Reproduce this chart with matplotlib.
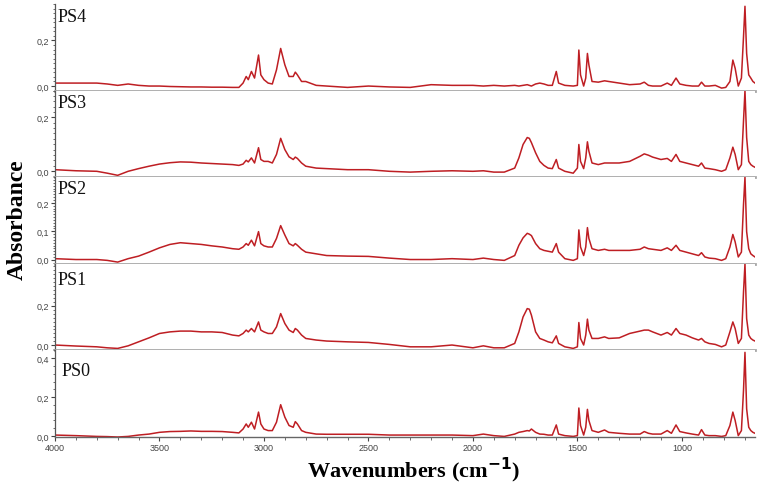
import matplotlib
matplotlib.use("Agg")
import matplotlib.pyplot as plt
from matplotlib.ticker import MultipleLocator, FuncFormatter

# ---------------- data ----------------
wavenumbers = [
    4000, 3900, 3800, 3750, 3700, 3650, 3600, 3550, 3500, 3450, 3400, 3350, 3300, 3250, 3200,
    3150, 3120, 3100, 3085, 3075, 3060, 3045, 3026, 3015, 3000, 2980, 2960, 2940, 2920, 2900,
    2880, 2860, 2850, 2840, 2820,
    2800, 2750, 2700, 2600, 2500, 2400, 2300, 2200, 2100, 2000, 1950, 1900, 1850, 1800, 1780,
    1760, 1740, 1730, 1720, 1700, 1680, 1660, 1640, 1620, 1601, 1590,
    1560, 1520, 1500, 1493, 1485, 1470, 1460, 1452, 1445, 1430, 1400, 1370, 1350, 1300, 1250,
    1200, 1180, 1160, 1140, 1100, 1070, 1050, 1028, 1010, 980, 950, 920, 906, 890, 870,
    840, 810, 790, 770, 756, 745, 730, 715, 705, 698, 690, 680, 670, 660, 650,
]

ps4 = [
    0.013, 0.013, 0.013, 0.009, 0.003, 0.009, 0.003, 0.0, 0.0, -0.002, -0.003, -0.004, -0.004, -0.005, -0.005,
    -0.006, -0.006, 0.013, 0.042, 0.028, 0.064, 0.035, 0.136, 0.049, 0.028, 0.013, 0.009, 0.071, 0.165, 0.093,
    0.042, 0.042, 0.061, 0.049, 0.020,
    0.020, 0.003, 0.0, -0.006, 0.0, -0.004, -0.006, 0.006, 0.003, 0.003, 0.0, 0.003, 0.0, 0.003, 0.0,
    0.003, 0.006, 0.003, 0.0, 0.009, 0.013, 0.009, 0.003, 0.003, 0.064, 0.013,
    0.003, 0.0, 0.003, 0.158, 0.049, 0.0, 0.035, 0.143, 0.093, 0.020, 0.017, 0.023, 0.020, 0.013, 0.006,
    0.009, 0.017, 0.003, 0.0, 0.0, 0.013, 0.003, 0.035, 0.009, 0.003, 0.0, 0.0, 0.017, 0.0, 0.0,
    0.003, -0.009, -0.006, 0.020, 0.114, 0.078, 0.0, 0.035, 0.216, 0.350, 0.143, 0.049, 0.035, 0.020, 0.013,
]

ps3 = [
    0.005, 0.001, -0.001, -0.008, -0.016, -0.001, 0.009, 0.018, 0.026, 0.031, 0.034, 0.033, 0.030, 0.028, 0.026,
    0.024, 0.021, 0.026, 0.040, 0.034, 0.049, 0.030, 0.087, 0.043, 0.036, 0.036, 0.030, 0.062, 0.122, 0.080,
    0.053, 0.043, 0.052, 0.047, 0.030,
    0.018, 0.011, 0.009, 0.005, 0.005, -0.001, -0.004, -0.001, 0.001, -0.001, 0.001, -0.004, -0.004, 0.011, 0.049,
    0.099, 0.125, 0.122, 0.106, 0.068, 0.036, 0.021, 0.011, 0.009, 0.043, 0.011,
    -0.001, -0.008, 0.011, 0.099, 0.036, 0.009, 0.049, 0.109, 0.074, 0.030, 0.024, 0.030, 0.030, 0.030, 0.036,
    0.055, 0.064, 0.059, 0.052, 0.043, 0.047, 0.036, 0.062, 0.036, 0.030, 0.024, 0.018, 0.030, 0.011, 0.009,
    0.005, -0.001, 0.005, 0.049, 0.089, 0.062, 0.005, 0.024, 0.187, 0.300, 0.125, 0.036, 0.024, 0.018, 0.014,
]

ps2 = [
    0.004, 0.001, 0.001, -0.002, -0.008, 0.004, 0.013, 0.027, 0.042, 0.054, 0.060, 0.057, 0.054, 0.049, 0.045,
    0.039, 0.037, 0.045, 0.057, 0.051, 0.069, 0.049, 0.099, 0.057, 0.049, 0.045, 0.045, 0.075, 0.120, 0.087,
    0.057, 0.049, 0.057, 0.051, 0.037,
    0.027, 0.021, 0.015, 0.013, 0.012, 0.006, 0.001, 0.001, 0.004, 0.001, 0.006, 0.001, -0.002, 0.015, 0.051,
    0.077, 0.093, 0.090, 0.085, 0.057, 0.039, 0.033, 0.030, 0.027, 0.057, 0.027,
    0.004, -0.002, 0.004, 0.105, 0.045, 0.015, 0.045, 0.113, 0.075, 0.039, 0.033, 0.037, 0.033, 0.033, 0.033,
    0.037, 0.045, 0.039, 0.037, 0.033, 0.042, 0.033, 0.051, 0.033, 0.027, 0.021, 0.015, 0.025, 0.010, 0.006,
    0.004, -0.002, 0.004, 0.045, 0.089, 0.063, 0.010, 0.027, 0.194, 0.290, 0.099, 0.039, 0.021, 0.015, 0.010,
]

ps1 = [
    0.002, -0.003, -0.007, -0.012, -0.015, -0.002, 0.018, 0.038, 0.060, 0.068, 0.072, 0.072, 0.068, 0.068, 0.065,
    0.052, 0.048, 0.060, 0.077, 0.068, 0.085, 0.068, 0.118, 0.077, 0.068, 0.060, 0.060, 0.093, 0.160, 0.110,
    0.077, 0.065, 0.085, 0.077, 0.052,
    0.035, 0.027, 0.022, 0.018, 0.015, 0.005, -0.007, -0.007, 0.002, -0.012, -0.002, -0.012, -0.012, 0.010, 0.068,
    0.143, 0.185, 0.182, 0.152, 0.068, 0.035, 0.027, 0.018, 0.013, 0.048, 0.010,
    -0.007, -0.015, -0.007, 0.115, 0.035, 0.002, 0.052, 0.132, 0.077, 0.035, 0.035, 0.043, 0.035, 0.038, 0.060,
    0.072, 0.077, 0.077, 0.068, 0.052, 0.065, 0.052, 0.085, 0.060, 0.052, 0.038, 0.027, 0.035, 0.018, 0.010,
    0.005, -0.007, 0.002, 0.068, 0.118, 0.085, 0.010, 0.035, 0.268, 0.410, 0.135, 0.052, 0.035, 0.027, 0.022,
]

ps0 = [
    0.005, 0.002, -0.002, -0.003, -0.005, -0.002, 0.005, 0.010, 0.019, 0.023, 0.024, 0.026, 0.024, 0.024, 0.023,
    0.019, 0.016, 0.036, 0.062, 0.045, 0.071, 0.036, 0.123, 0.062, 0.036, 0.028, 0.028, 0.071, 0.161, 0.097,
    0.054, 0.045, 0.074, 0.062, 0.028,
    0.019, 0.010, 0.009, 0.009, 0.009, 0.005, 0.005, 0.005, 0.005, 0.002, 0.010, 0.002, -0.002, 0.010, 0.019,
    0.023, 0.028, 0.026, 0.036, 0.019, 0.010, 0.009, 0.005, 0.005, 0.057, 0.010,
    0.002, -0.002, 0.002, 0.144, 0.054, 0.005, 0.045, 0.137, 0.080, 0.028, 0.019, 0.031, 0.019, 0.014, 0.010,
    0.010, 0.023, 0.014, 0.010, 0.010, 0.028, 0.014, 0.057, 0.023, 0.016, 0.010, 0.005, 0.033, 0.005, 0.002,
    0.002, -0.002, 0.002, 0.054, 0.123, 0.080, 0.002, 0.028, 0.235, 0.430, 0.140, 0.045, 0.028, 0.019, 0.014,
]

labels = ["PS4", "PS3", "PS2", "PS1", "PS0"]
series = [ps4, ps3, ps2, ps1, ps0]
ylims = [(-0.02, 0.36), (-0.023, 0.30), (-0.014, 0.29), (-0.025, 0.41), (-0.005, 0.44)]
yticks = [[0.0, 0.2], [0.0, 0.2], [0.0, 0.1, 0.2], [0.0, 0.2], [0.0, 0.2, 0.4]]
yminor = [0.02, 0.02, 0.01, 0.02, 0.04]
xticks = [4000, 3500, 3000, 2500, 2000, 1500, 1000]

# ---------------- figure ----------------
W, H = 763, 485
fig = plt.figure(figsize=(W / 100, H / 100), dpi=100)
left, right = 55 / W, 755 / W
top, bottom = 1 - 5 / H, 1 - 438 / H
gs = fig.add_gridspec(5, 1, left=left, right=right, top=top, bottom=bottom, hspace=0)

line_color = "#be1e23"
serif = ["Liberation Serif", "DejaVu Serif"]
sans = ["Liberation Sans", "DejaVu Sans"]
comma_fmt = FuncFormatter(lambda v, p: f"{v:.1f}".replace(".", ","))

label_pos = [(0.004, 0.86), (0.004, 0.86), (0.004, 0.87), (0.004, 0.815), (0.009, 0.77)]

axes = []
for i in range(5):
    ax = fig.add_subplot(gs[i, 0])
    axes.append(ax)
    ax.plot(wavenumbers, series[i], color=line_color, lw=1.1)
    ax.set_xlim(4000, 650)
    ax.set_ylim(*ylims[i])
    ax.set_yticks(yticks[i])
    ax.yaxis.set_minor_locator(MultipleLocator(yminor[i]))
    ax.yaxis.set_major_formatter(comma_fmt)
    for s in ("top", "right"):
        ax.spines[s].set_visible(False)
    ax.spines["left"].set_color("#555555")
    ax.spines["left"].set_linewidth(0.9)
    ax.tick_params(axis="y", which="major", direction="out", length=3, width=0.8,
                   colors="#444444", labelsize=6.5, pad=1.5)
    ax.tick_params(axis="y", which="minor", direction="out", length=1.5, width=0.6, colors="#555555")
    for lab in ax.get_yticklabels():
        lab.set_fontfamily(sans)
    if i < 4:
        ax.spines["bottom"].set_color("#a8a8a8")
        ax.spines["bottom"].set_linewidth(2.0)
        ax.tick_params(axis="x", which="both", bottom=False, labelbottom=False)
    else:
        ax.spines["bottom"].set_color("#666666")
        ax.spines["bottom"].set_linewidth(1.0)
        ax.set_xticks(xticks)
        ax.xaxis.set_minor_locator(MultipleLocator(100))
        ax.tick_params(axis="x", which="major", direction="out", length=3, width=0.8,
                       colors="#444444", labelsize=6.5, pad=1.5)
        ax.tick_params(axis="x", which="minor", direction="out", length=2, width=0.6, colors="#555555")
        for lab in ax.get_xticklabels():
            lab.set_fontfamily(sans)
    px, py = label_pos[i]
    ax.text(px, py, labels[i], transform=ax.transAxes, fontsize=13, family=serif,
            ha="left", va="center", color="#111111")

fig.text(17 / W, 1 - 220 / H, "Absorbance", rotation=90, fontsize=17, fontweight="bold",
         family=serif, ha="center", va="center")
fig.text(414 / W, 1 - 478 / H, "Wavenumbers (cm$^{\\mathbf{-1}}$)", fontsize=16, fontweight="bold",
         family=serif, ha="center", va="baseline")

fig.savefig("out.png", dpi=100)
